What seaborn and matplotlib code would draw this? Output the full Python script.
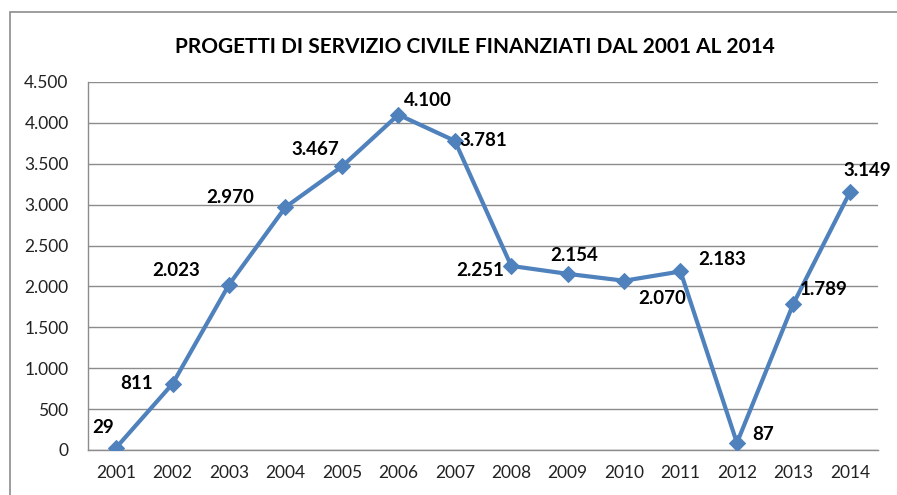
import pandas as pd
import seaborn as sns
import numpy as np
import matplotlib.pyplot as plt
from matplotlib.patches import Rectangle
from matplotlib.ticker import FuncFormatter, FixedLocator

# dati
years = [2001, 2002, 2003, 2004, 2005, 2006, 2007, 2008, 2009, 2010, 2011, 2012, 2013, 2014]
projects = [29, 811, 2023, 2970, 3467, 4100, 3781, 2251, 2154, 2070, 2183, 87, 1789, 3149]
value_labels = ["29", "811", "2.023", "2.970", "3.467", "4.100", "3.781", "2.251",
                "2.154", "2.070", "2.183", "87", "1.789", "3.149"]
# label offsets in pixels (dx, dy) relative to each point
label_offsets = [(-13, 20), (-36, 0), (-53, 14), (-55, 10), (-27, 17), (30, 14), (29, 0),
                 (-31, -5), (7, 18), (38, -18), (42, 12), (26, 8), (30, 14), (18, 22)]

df = pd.DataFrame({"anno": years, "progetti": projects})

sns.set_theme(style="white")
plt.rcParams['font.family'] = ['Lato', 'DejaVu Sans']

fig = plt.figure(figsize=(8.97, 4.95), dpi=100)
ax = fig.add_axes([88 / 897, 1 - 450 / 495, (878 - 88) / 897, (450 - 82) / 495])

blue = "#4F81BD"
grid_col = "#8C8C8C"

sns.lineplot(data=df, x="anno", y="progetti", ax=ax, color=blue, linewidth=3,
             marker="D", markersize=8, markeredgecolor=blue, zorder=3)

ax.set_xlim(2000.5, 2014.5)
ax.set_ylim(0, 4500)
ax.set_yticks(np.arange(0, 4501, 500))
ax.yaxis.set_major_formatter(FuncFormatter(lambda v, p: f"{int(v):,}".replace(",", ".")))
ax.set_xticks(years)
ax.set_xticklabels([str(y) for y in years])
ax.xaxis.set_minor_locator(FixedLocator(np.arange(2000.5, 2015, 1)))
ax.tick_params(axis="x", which="major", length=0, pad=11, labelsize=12.5, colors="#222222")
ax.tick_params(axis="x", which="minor", length=7, width=1, color=grid_col, direction="out")
ax.tick_params(axis="y", length=0, pad=14, labelsize=12.5, colors="#222222")
ax.grid(axis="y", color=grid_col, linewidth=1)
ax.set_axisbelow(True)
for s in ["top", "right"]:
    ax.spines[s].set_visible(False)
for s in ["left", "bottom"]:
    ax.spines[s].set_color(grid_col)
    ax.spines[s].set_linewidth(1)
ax.set_xlabel("")
ax.set_ylabel("")

for x, y, t, (dx, dy) in zip(years, projects, value_labels, label_offsets):
    ax.annotate(t, (x, y), xytext=(dx, dy), textcoords="offset pixels",
                ha="center", va="center", fontsize=13.5, fontweight="bold", color="black")

fig.text(475 / 897, 1 - 47 / 495, "PROGETTI DI SERVIZIO CIVILE FINANZIATI DAL 2001 AL 2014",
         ha="center", va="center", fontsize=15, fontweight="bold", color="black")

# cornice esterna
fig.patches.append(Rectangle((10 / 897, -0.2), 1.2, 1.2 - 12 / 495,
                             transform=fig.transFigure, fill=False,
                             edgecolor="#8C8C8C", linewidth=1.2))

fig.savefig("out.png", dpi=100)
